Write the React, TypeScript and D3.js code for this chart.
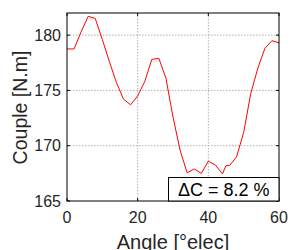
import React from "react";
import * as d3 from "d3";

const angles = [0, 2, 4, 6, 8, 10, 12, 14, 16, 18, 20, 22, 24, 26, 28, 30, 32, 34, 36, 38, 40, 42, 44, 45, 46, 48, 50, 52, 54, 56, 58, 60];
const couple = [178.75, 178.75, 180.3, 181.7, 181.5, 179.6, 177.6, 175.7, 174.2, 173.7, 174.5, 175.8, 177.8, 177.9, 176.1, 172.6, 169.6, 167.55, 167.9, 167.5, 168.6, 168.25, 167.45, 168.2, 168.2, 169.0, 171.2, 174.7, 177.0, 178.8, 179.5, 179.3];
const xTicks = [0, 20, 40, 60];
const yTicks = [165, 170, 175, 180];
const annotation = "ΔC = 8.2 %";
const xLabel = "Angle [°elec]";
const yLabel = "Couple [N.m]";

export default function App() {
  const W = 290, H = 250;
  const L = 67, R = 279, T = 13, B = 201;
  const x = d3.scaleLinear().domain([0, 60]).range([L, R]);
  const y = d3.scaleLinear().domain([165, 182]).range([B, T]);
  const line = d3.line<number>().x((_, i) => x(angles[i])).y((d) => y(d));
  const font = "'Liberation Sans', Arial, sans-serif";
  const tl = 3;
  return (
    <svg width={W} height={H} style={{ position: "absolute", left: 0, top: 0, background: "#fff" }} fontFamily={font}>
      <rect x={0} y={0} width={W} height={H} fill="#fff" />
      {xTicks.filter((t) => t > 0 && t < 60).map((t) => (
        <line key={"gx" + t} x1={x(t)} x2={x(t)} y1={T} y2={B} stroke="#b0b0b0" strokeWidth={1} strokeDasharray="1.5,1.5" />
      ))}
      {yTicks.filter((t) => t > 165).map((t) => (
        <line key={"gy" + t} x1={L} x2={R} y1={y(t)} y2={y(t)} stroke="#b0b0b0" strokeWidth={1} strokeDasharray="1.5,1.5" />
      ))}
      <path d={line(couple) || ""} fill="none" stroke="#ff0000" strokeWidth={1} />
      {xTicks.map((t) => (
        <g key={"tx" + t}>
          <line x1={x(t)} x2={x(t)} y1={B} y2={B - tl} stroke="#000" />
          <line x1={x(t)} x2={x(t)} y1={T} y2={T + tl} stroke="#000" />
          <text x={x(t)} y={223} textAnchor="middle" fontSize={16} fill="#262626">{t}</text>
        </g>
      ))}
      {yTicks.map((t) => (
        <g key={"ty" + t}>
          <line x1={L} x2={L + tl} y1={y(t)} y2={y(t)} stroke="#000" />
          <line x1={R} x2={R - tl} y1={y(t)} y2={y(t)} stroke="#000" />
          <text x={61} y={y(t) + 5.7} textAnchor="end" fontSize={16} fill="#262626">{t}</text>
        </g>
      ))}
      <rect x={L} y={T} width={R - L} height={B - T} fill="none" stroke="#000" strokeWidth={1} />
      <rect x={168.5} y={177.5} width={R - 168.5} height={B - 177.5} fill="#fff" stroke="#000" strokeWidth={1} />
      <text x={(168.5 + R) / 2} y={196} textAnchor="middle" fontSize={18} fill="#000">{annotation}</text>
      <text x={173} y={249} textAnchor="middle" fontSize={20} fill="#262626">{xLabel}</text>
      <text transform={`translate(27, 107.5) rotate(-90)`} textAnchor="middle" fontSize={19.5} fill="#262626">{yLabel}</text>
    </svg>
  );
}
